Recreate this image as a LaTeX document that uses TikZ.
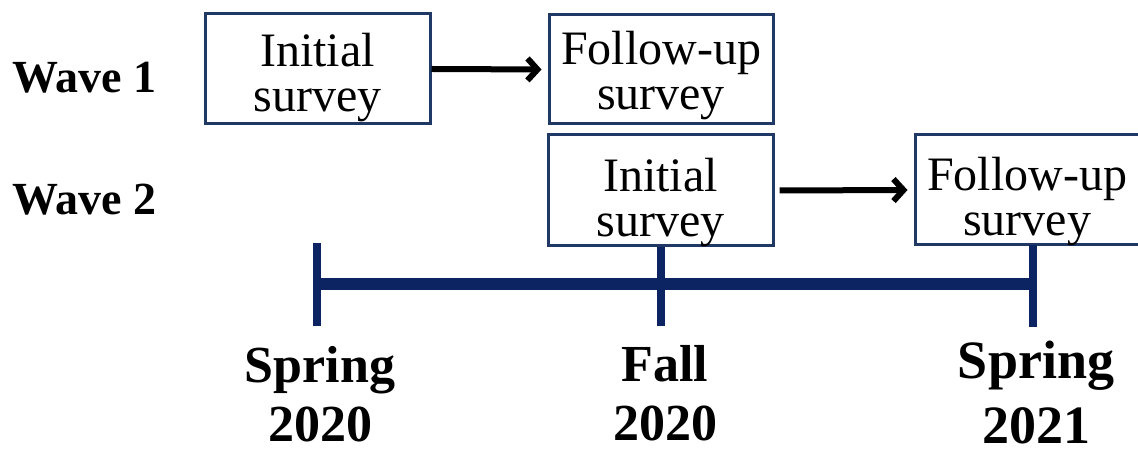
\documentclass[tikz,border=0pt]{standalone}
\usepackage{fontspec}
\setmainfont{Liberation Serif}
\usetikzlibrary{arrows.meta}
\definecolor{boxnavy}{RGB}{31,56,100}
\definecolor{linenavy}{RGB}{12,36,97}
\tikzset{
  surveybox/.style={draw=boxnavy, line width=1.5pt, fill=white, inner sep=0pt, minimum width=112.5pt, minimum height=55pt},
  surveytext/.style={inner sep=0pt, align=center, font=\fontsize{24}{22.5}\selectfont},
  wavelabel/.style={inner sep=0pt, anchor=base west, font=\fontsize{23}{26}\selectfont\bfseries},
  timelabel/.style={inner sep=0pt, align=center, font=\fontsize{26}{29.5}\selectfont\bfseries},
  flow/.style={line width=3pt, -{Straight Barb[length=5pt,width=11pt]}},
  timeline/.style={draw=linenavy, line width=6pt},
  tickmark/.style={draw=linenavy, line width=4pt}
}
\begin{document}
\begin{tikzpicture}[x=0.5pt,y=-0.5pt]
\useasboundingbox (0,0) rectangle (1138,453);
% boxes
\node[surveybox, minimum width=112.5pt, minimum height=55pt] (b1) at (317.5,69) {};
\node[surveybox, minimum width=112pt, minimum height=54.5pt] (b2) at (661,69.5) {};
\node[surveybox, minimum width=112.5pt, minimum height=55.5pt] (b3) at (660.5,190.5) {};
\node[surveybox, minimum width=112.5pt, minimum height=55pt] (b4) at (1027.5,190) {};
% box texts
\node[surveytext] (t1) at (317.5,77.5) {Initial\\survey};
\node[surveytext] (t2) at (661,76) {Follow-up\\survey};
\node[surveytext] (t3) at (660.5,203) {Initial\\survey};
\node[surveytext] (t4) at (1027,202) {Follow-up\\survey};
% wave labels
\node[wavelabel] (w1) at (12,93) {Wave 1};
\node[wavelabel] (w2) at (12,215) {Wave 2};
% arrows
\draw[flow, shorten >=3pt] (b1.east) -- (b2.west);
\draw[flow, shorten <=2.5pt, shorten >=3pt] (b3.east) -- (b4.west);
% timeline
\coordinate (k1top) at (317,243);
\coordinate (k1bot) at (317,326);
\coordinate (k2bot) at (661,326);
\coordinate (k3top) at (1033,245);
\coordinate (k3bot) at (1033,327);
\coordinate (h1) at (317,284);
\coordinate (h3) at (1033,284);
\draw[timeline] (h1) -- (h3);
\draw[tickmark] (k1top) -- (k1bot);
\draw[tickmark] (b3.south -| k2bot) -- (k2bot);
\draw[tickmark] (k3top) -- (k3bot);
% time labels
\node[timelabel] (s20) at (320,394) {Spring\\2020};
\node[timelabel] (f20) at (665,393) {Fall\\2020};
\node[timelabel, font=\fontsize{27}{32.5}\selectfont\bfseries] (s21) at (1036,393) {Spring\\2021};
\end{tikzpicture}
\end{document}
